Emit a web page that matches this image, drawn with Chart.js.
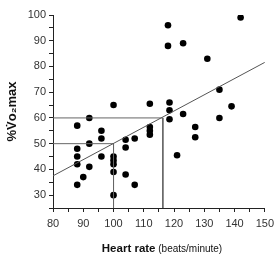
<!DOCTYPE html>
<html><head><meta charset="utf-8">
<script src="https://cdn.jsdelivr.net/npm/chart.js@4"></script>
<style>html,body{margin:0;padding:0;background:#fff}#wrap{width:279px;height:257px;position:relative}</style>
</head><body><div id="wrap"><canvas id="c" width="279" height="257"></canvas></div>
<script>
const heartRate = [88,88,88,88,88,90,92,92,92,96,96,96,100,100,100,100,100,100,104,104,104,107,107,112,112,112,112,118,118,123,118.5,118.5,118.5,123,121,127,127,131,135,135,139,142];
const pctVO2max = [57,48,45,42,34,37,60,50,41,55,52,45,65,45,43.5,42,39,30,51.5,48.5,38,52,34,65.5,56.5,55,53.5,96,88,89,66,63,59.5,61.5,45.5,56.5,52.5,83,71,60,64.5,99];
const fitX = [80,150];
const fitY = [37.5,81.6];
const guide60X = [80,116.3,116.3];
const guide60Y = [60,60,25];
const guide50X = [80,100,100];
const guide50Y = [50,50,25];
const xTickLabels = [80,90,100,110,120,130,140,150];
const yTickLabels = [30,40,50,60,70,80,90,100];

const pts = (xs, ys) => xs.map((x,i)=>({x, y: ys[i]}));
const tickFont = {family:"'Liberation Sans Narrow','Liberation Sans',Arial,sans-serif", size:11};

const titlePlugin = {
  id:'xtitle',
  afterDraw(chart){
    const ctx = chart.ctx;
    ctx.save();
    ctx.fillStyle = '#111';
    ctx.textBaseline = 'middle';
    const f1 = "bold 11.5px 'Liberation Sans',Arial,sans-serif";
    const f2 = "10px 'Liberation Sans Narrow','Liberation Sans',Arial,sans-serif";
    const t1 = 'Heart rate', t2 = ' (beats/minute)';
    ctx.font = f1; const w1 = ctx.measureText(t1).width;
    ctx.font = f2; const w2 = ctx.measureText(t2).width;
    const cx = 162, y = 249;
    let x = cx - (w1+w2)/2;
    ctx.font = f1; ctx.textAlign='left'; ctx.fillText(t1, x, y);
    ctx.font = f2; ctx.fillText(t2, x + w1, y + 0.5);
    ctx.restore();
  }
};

new Chart(document.getElementById('c'), {
  type: 'scatter',
  data: {
    datasets: [
      {type:'line', data: pts(fitX, fitY), borderColor:'#555', borderWidth:1, pointRadius:0, fill:false, showLine:true},
      {type:'line', data: pts(guide60X, guide60Y), borderColor:'#666', borderWidth:1, pointRadius:0, fill:false, showLine:true, tension:0},
      {type:'line', data: pts(guide50X, guide50Y), borderColor:'#666', borderWidth:1, pointRadius:0, fill:false, showLine:true, tension:0},
      {data: pts(heartRate, pctVO2max), backgroundColor:'#000', borderColor:'#000', pointRadius:3.3, pointBorderWidth:0}
    ]
  },
  options: {
    responsive:false, animation:false, devicePixelRatio:1,
    layout:{padding:{top:15,right:11,left:0,bottom:0}},
    plugins:{legend:{display:false}, tooltip:{enabled:false}},
    scales:{
      x:{type:'linear', min:80, max:150,
        afterFit(s){ s.height = 49; },
        ticks:{stepSize:5, autoSkip:false, maxRotation:0, color:'#333', font:tickFont, padding:5,
          callback:(v)=> xTickLabels.includes(v) ? String(v) : ''},
        grid:{drawOnChartArea:false, drawTicks:true, tickLength:4, color:'#222'},
        border:{display:true, color:'#222', width:1},
        title:{display:false}
      },
      y:{type:'linear', min:25, max:100,
        afterFit(s){ s.width = 53; },
        ticks:{stepSize:5, autoSkip:false, color:'#333', font:tickFont, padding:3,
          callback:(v)=> yTickLabels.includes(v) ? String(v) : ''},
        grid:{drawOnChartArea:false, drawTicks:true, tickLength:4, color:'#222'},
        border:{display:true, color:'#222', width:1},
        title:{display:true, text:'%V\u0307o\u2082max', color:'#111', padding:{top:5,bottom:4},
          font:{family:"'Liberation Sans',Arial,sans-serif", size:13, weight:'bold'}}
      }
    }
  },
  plugins:[titlePlugin]
});
</script></body></html>
